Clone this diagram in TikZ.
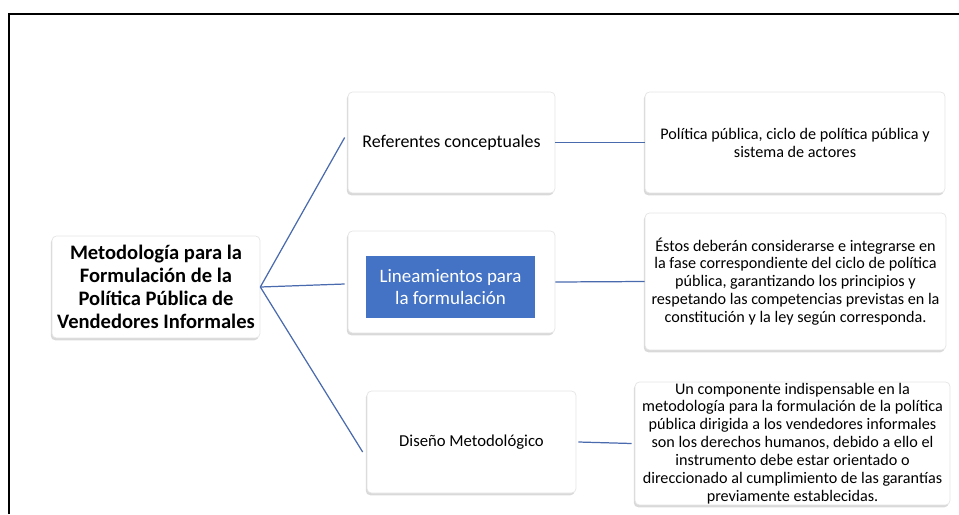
\documentclass[tikz,border=0pt]{standalone}
\usepackage{fontspec}
\setmainfont{Carlito}
\usetikzlibrary{shadows}
\definecolor{linkblue}{HTML}{4A6AAE}
\definecolor{boxblue}{HTML}{4472C4}

\begin{document}
\begin{tikzpicture}[x=0.02cm,y=-0.02cm,
  boxnode/.style={draw=black!10, fill=white, rounded corners=2.5pt, align=center, inner sep=0pt,
    drop shadow={shadow xshift=-0.7pt, shadow yshift=-1.3pt, opacity=0.3}},
  rootnode/.style={boxnode, font=\fontsize{11.7}{13}\selectfont\bfseries},
  midnode/.style={boxnode, font=\fontsize{9.5}{11.5}\selectfont},
  infonode/.style={boxnode, font=\fontsize{9.2}{10.2}\selectfont},
  bluenode/.style={fill=boxblue, text=white, align=center, inner sep=0pt, font=\fontsize{10.8}{13}\selectfont},
  link/.style={draw=linkblue, line width=0.7pt}]
        \useasboundingbox (0,0) rectangle (959,514);
        \draw[line width=1.1pt] (9,514) -- (9,14) -- (959,14);

        \node[rootnode, minimum width=41.6mm, minimum height=20.4mm] (M) at (156,287) {Metodología para la\\Formulación de la\\Política Pública de\\Vendedores Informales};
        \node[midnode, minimum width=41.4mm, minimum height=20.2mm, font=\fontsize{10.2}{12}\selectfont] (R) at (451.5,142.5) {Referentes conceptuales};
        \node[boxnode, minimum width=41.4mm, minimum height=20.4mm] (L) at (451.5,282) {};
        \node[bluenode, minimum width=33.8mm, minimum height=12.4mm] (Lb) at (450.5,287) {Lineamientos para\\la formulación};
        \node[midnode, minimum width=41.8mm, minimum height=20.4mm] (D) at (471.5,442) {Diseño Metodológico};
        \node[infonode, minimum width=60mm, minimum height=20.2mm] (R2) at (795,142.5) {Política pública, ciclo de política pública y\\sistema de actores};
        \node[infonode, minimum width=60.2mm, minimum height=27.4mm] (L2) at (795.5,281.5) {Éstos deberán considerarse e integrarse en\\la fase correspondiente del ciclo de política\\pública, garantizando los principios y\\respetando las competencias previstas en la\\constitución y la ley según corresponda.};
        \node[infonode, minimum width=63mm, minimum height=24.6mm] (D2) at (792.5,443.5) {Un componente indispensable en la\\metodología para la formulación de la política\\pública dirigida a los vendedores informales\\son los derechos humanos, debido a ello el\\instrumento debe estar orientado o\\direccionado al cumplimiento de las garantías\\previamente establecidas.};

        \draw[link] (M.east) -- ([xshift=-0.6mm,yshift=1mm]R.west);
        \draw[link] (M.east) -- ([xshift=-0.6mm,yshift=-0.4mm]L.west);
        \draw[link] (M.east) -- ([xshift=-0.8mm,yshift=-2mm]D.west);
        \draw[link] (R.east) -- (R2.west);
        \draw[link] (L.east) -- (L2.west);
        \draw[link] ([xshift=0.4mm]D.east) -- ([xshift=-0.6mm]D2.west);
\end{tikzpicture}
\end{document}
